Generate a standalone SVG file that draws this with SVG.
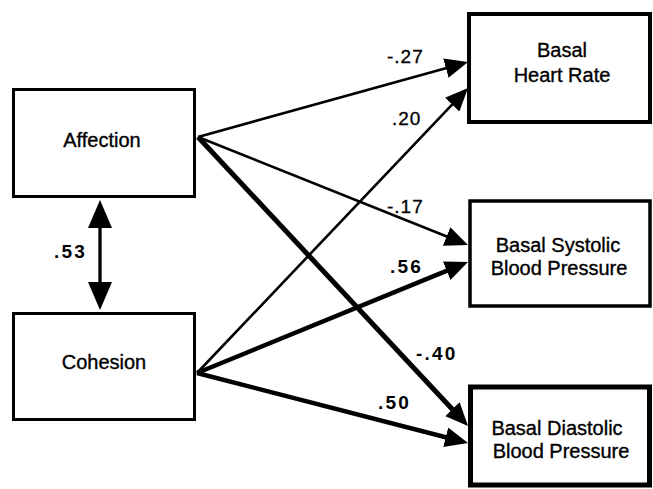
<svg xmlns="http://www.w3.org/2000/svg" width="653" height="489" viewBox="0 0 653 489">
<style>
.box{fill:#fff;stroke:#000}
.nl{font-family:"Liberation Sans",Arial,Helvetica,sans-serif;font-size:20px;fill:#000;stroke:#000;stroke-width:0.35;text-anchor:middle}
.el{font-family:"Liberation Sans",Arial,Helvetica,sans-serif;font-size:19px;fill:#000;stroke:#000;stroke-width:0.3;letter-spacing:1px}
.eb{font-family:"Liberation Sans",Arial,Helvetica,sans-serif;font-size:19px;font-weight:bold;fill:#000;letter-spacing:2.2px}
.thin{stroke:#000;stroke-width:2.6;fill:none;marker-end:url(#ah)}
.thick{stroke:#000;stroke-width:5;fill:none;marker-end:url(#ah)}
</style>
<defs>
<marker id="ah" markerUnits="userSpaceOnUse" markerWidth="26" markerHeight="20" viewBox="0 0 26 20" refX="13" refY="10" orient="auto">
<path d="M0,0 L23,10 L0,20 Z" fill="#000"/>
</marker>
<marker id="dh" markerUnits="userSpaceOnUse" markerWidth="30" markerHeight="24" viewBox="0 0 30 24" refX="18" refY="12" orient="auto-start-reverse">
<path d="M0,0 L28,12 L0,24 Z" fill="#000"/>
</marker>
</defs>
<rect width="653" height="489" fill="#fff"/>
<g id="connectors">
<line class="thin" x1="198" y1="137" x2="458.4" y2="64.7"/>
<line class="thin" x1="198" y1="137" x2="458.7" y2="241.3"/>
<line class="thick" x1="198" y1="137" x2="461.2" y2="418.7"/>
<line class="thin" x1="197" y1="373" x2="461.1" y2="95.2"/>
<line class="thick" x1="197" y1="373" x2="458.7" y2="265.8" style="stroke-width:4.5"/>
<line class="thick" x1="197" y1="373" x2="458.3" y2="440.5" style="stroke-width:4.5"/>
<line x1="100" y1="210" x2="100" y2="300" stroke="#000" stroke-width="3.3" marker-start="url(#dh)" marker-end="url(#dh)"/>
<text class="el" x="387" y="63">-.27</text>
<text class="el" x="392" y="125">.20</text>
<text class="el" x="387" y="213">-.17</text>
<text class="eb" x="390" y="273">.56</text>
<text class="eb" x="416" y="360">-.40</text>
<text class="eb" x="378" y="409">.50</text>
<text class="eb" x="54" y="258">.53</text>
</g>
<g id="affection">
<rect class="box" x="13.5" y="89.5" width="181" height="107" stroke-width="3"/>
<text class="nl" x="102" y="147">Affection</text>
</g>
<g id="cohesion">
<rect class="box" x="13.5" y="313.5" width="181" height="106" stroke-width="3"/>
<text class="nl" x="104" y="369">Cohesion</text>
</g>
<g id="heart-rate">
<rect class="box" x="469" y="14" width="181" height="108" stroke-width="4"/>
<text class="nl" x="562" y="57">Basal</text>
<text class="nl" x="562" y="82">Heart Rate</text>
</g>
<g id="systolic">
<rect class="box" x="470" y="201" width="180" height="105" stroke-width="3.5"/>
<text class="nl" x="558" y="252">Basal Systolic</text>
<text class="nl" x="559" y="275">Blood Pressure</text>
</g>
<g id="diastolic">
<rect class="box" x="470.5" y="387" width="179" height="98" stroke-width="5"/>
<text class="nl" x="557" y="435">Basal Diastolic</text>
<text class="nl" x="561" y="458">Blood Pressure</text>
</g>
</svg>
